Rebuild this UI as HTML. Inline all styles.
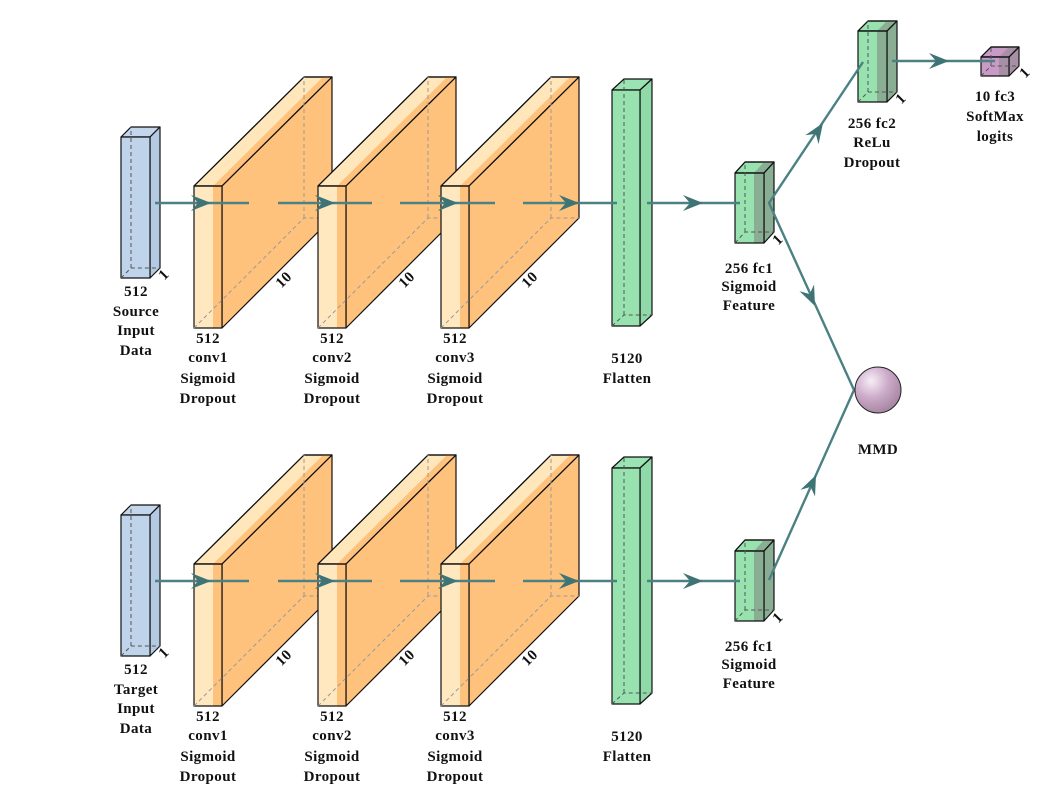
<!DOCTYPE html>
<html><head><meta charset="utf-8"><style>
html,body{margin:0;padding:0;background:#fff;}
svg{display:block;}
text{font-family:"Liberation Serif",serif;font-weight:bold;font-size:15px;letter-spacing:0.4px;fill:#111;text-anchor:middle;}
.d{font-weight:normal;font-size:12px;letter-spacing:0;}
.ln{stroke:#4c8184;stroke-width:2.4;fill:none;}
.hd{fill:#3f7476;}
.e{stroke:#111;stroke-width:1.2;stroke-linejoin:round;}
.dash{stroke:#555;stroke-width:1;stroke-dasharray:4,3;fill:none;}
.dashl{stroke:#999;stroke-width:1;stroke-dasharray:4,3;fill:none;}
</style></head><body>
<svg width="1053" height="796" viewBox="0 0 1053 796" xmlns="http://www.w3.org/2000/svg">
<defs>
<radialGradient id="sph" cx="0.35" cy="0.3" r="0.75">
<stop offset="0" stop-color="#f7eef6"/><stop offset="0.5" stop-color="#ccabc9"/><stop offset="1" stop-color="#a3839f"/>
</radialGradient>
<path id="ah" d="M0,0 L-20,-8 L-13,0 L-20,8 Z"/>
<g id="row">
<g class="e">
<polygon points="121,137 131,127 160,127 150,137" fill="#c3d6ec"/>
<polygon points="150,137 160,127 160,268 150,278" fill="#b4c9e2"/>
<rect x="121" y="137" width="29" height="141" fill="#bfd3ea"/>
</g>
<path class="dash" d="M121,278 L131,268 L160,268 M131,268 L131,127"/>
<g id="conv">
<g class="e">
<polygon points="194,186 304,77 332,77 222,186" fill="#ffe6bb"/>
<polygon points="213,186 323,77 332,77 222,186" fill="#ffc27d" stroke="none"/>
<polygon points="222,186 332,77 332,218 222,328" fill="#ffc27d"/>
<rect x="194" y="186" width="19" height="142" fill="#ffe8c0" stroke="none"/>
<rect x="213" y="186" width="9" height="142" fill="#ffc27d" stroke="none"/>
<rect x="194" y="186" width="28" height="142" fill="none"/>
<polygon points="194,186 304,77 332,77 222,186" fill="none"/>
</g>
<path class="dashl" d="M194,328 L304,218 L332,218 M304,218 L304,77"/>
</g>
<use href="#conv" transform="translate(124,0)"/>
<use href="#conv" transform="translate(247,0)"/>
<g class="e">
<polygon points="612,90 624,79 652,79 640,90" fill="#9ae3b2"/>
<polygon points="640,90 652,79 652,315 640,326" fill="#8fdaa8"/>
<rect x="612" y="90" width="28" height="236" fill="#98e2b0"/>
</g>
<path class="dash" d="M612,326 L624,315 L652,315 M624,315 L624,79"/>
<g class="e">
<polygon points="735,173 745,162 774,162 764,173" fill="#98e2b0"/>
<polygon points="754,173 764,162 774,162 764,173" fill="#8aae94" stroke="none"/>
<polygon points="764,173 774,162 774,232 764,243" fill="#8aae94"/>
<rect x="735" y="173" width="19" height="70" fill="#98e2b0" stroke="none"/>
<rect x="754" y="173" width="10" height="70" fill="#8aae94" stroke="none"/>
<rect x="735" y="173" width="29" height="70" fill="none"/>
<polygon points="735,173 745,162 774,162 764,173" fill="none"/>
</g>
<path class="dash" d="M735,243 L745,232 L774,232 M745,232 L745,162"/>
<path class="ln" d="M155,203 L249 203 M278,203 L372,203 M400,203 L495,203 M523,203 L617,203 M647,203 L740,203"/>
<g class="hd">
<use href="#ah" transform="translate(211,203)"/>
<use href="#ah" transform="translate(335,203)"/>
<use href="#ah" transform="translate(458,203)"/>
<use href="#ah" transform="translate(579,203)"/>
<use href="#ah" transform="translate(703,203)"/>
</g>
</g>
</defs>

<use href="#row"/>
<use href="#row" transform="translate(0,378)"/>

<g class="e">
<polygon points="858,31 868,21 897,21 887,31" fill="#98e2b0"/>
<polygon points="877,31 887,21 897,21 887,31" fill="#8aae94" stroke="none"/>
<polygon points="887,31 897,21 897,92 887,102" fill="#8aae94"/>
<rect x="858" y="31" width="19" height="71" fill="#98e2b0" stroke="none"/>
<rect x="877" y="31" width="10" height="71" fill="#8aae94" stroke="none"/>
<rect x="858" y="31" width="29" height="71" fill="none"/>
<polygon points="858,31 868,21 897,21 887,31" fill="none"/>
</g>
<path class="dash" d="M858,102 L868,92 L897,92 M868,92 L868,21"/>
<g class="e">
<polygon points="981,57 991,47 1019,47 1009,57" fill="#c79bc6"/>
<polygon points="999,57 1009,47 1019,47 1009,57" fill="#a78fa5" stroke="none"/>
<polygon points="1009,57 1019,47 1019,66 1009,76" fill="#a78fa5"/>
<rect x="981" y="57" width="18" height="19" fill="#c79bc6" stroke="none"/>
<rect x="999" y="57" width="10" height="19" fill="#a78fa5" stroke="none"/>
<rect x="981" y="57" width="28" height="19" fill="none"/>
<polygon points="981,57 991,47 1019,47 1009,57" fill="none"/>
</g>
<path class="dash" d="M981,76 L991,66 L1019,66 M991,66 L991,47"/>

<path class="ln" d="M863,62 L769,203 L854,390 L769,580 M892,61 L995,61"/>
<g class="hd">
<use href="#ah" transform="translate(949,61)"/>
<use href="#ah" transform="translate(823,123) rotate(-56.3)"/>
<use href="#ah" transform="translate(815,306) rotate(65.7)"/>
<use href="#ah" transform="translate(816,475) rotate(-65.6)"/>
</g>
<circle cx="878" cy="390" r="23" fill="url(#sph)" stroke="#222" stroke-width="1"/>

<g class="d">
<text transform="translate(167,278) rotate(-45)">1</text>
<text transform="translate(287,283) rotate(-45)">10</text>
<text transform="translate(410,283) rotate(-45)">10</text>
<text transform="translate(533,283) rotate(-45)">10</text>
<text transform="translate(781,243) rotate(-45)">1</text>
<text transform="translate(904,102) rotate(-45)">1</text>
<text transform="translate(1028,76) rotate(-45)">1</text>
<text transform="translate(167,656) rotate(-45)">1</text>
<text transform="translate(287,661) rotate(-45)">10</text>
<text transform="translate(410,661) rotate(-45)">10</text>
<text transform="translate(533,661) rotate(-45)">10</text>
<text transform="translate(781,621) rotate(-45)">1</text>
</g>

<text x="136" y="296">512</text><text x="136" y="316">Source</text><text x="136" y="335">Input</text><text x="136" y="355">Data</text>
<text x="208" y="343">512</text><text x="208" y="362">conv1</text><text x="208" y="383">Sigmoid</text><text x="208" y="403">Dropout</text>
<text x="332" y="343">512</text><text x="332" y="362">conv2</text><text x="332" y="383">Sigmoid</text><text x="332" y="403">Dropout</text>
<text x="455" y="343">512</text><text x="455" y="362">conv3</text><text x="455" y="383">Sigmoid</text><text x="455" y="403">Dropout</text>
<text x="627" y="363">5120</text><text x="627" y="383">Flatten</text>
<text x="749" y="273">256 fc1</text><text x="749" y="291">Sigmoid</text><text x="749" y="310">Feature</text>
<text x="872" y="128">256 fc2</text><text x="872" y="147">ReLu</text><text x="872" y="167">Dropout</text>
<text x="995" y="101">10 fc3</text><text x="995" y="121">SoftMax</text><text x="995" y="141">logits</text>
<text x="878" y="454">MMD</text>

<text x="136" y="674">512</text><text x="136" y="694">Target</text><text x="136" y="713">Input</text><text x="136" y="733">Data</text>
<text x="208" y="721">512</text><text x="208" y="740">conv1</text><text x="208" y="761">Sigmoid</text><text x="208" y="781">Dropout</text>
<text x="332" y="721">512</text><text x="332" y="740">conv2</text><text x="332" y="761">Sigmoid</text><text x="332" y="781">Dropout</text>
<text x="455" y="721">512</text><text x="455" y="740">conv3</text><text x="455" y="761">Sigmoid</text><text x="455" y="781">Dropout</text>
<text x="627" y="741">5120</text><text x="627" y="761">Flatten</text>
<text x="749" y="651">256 fc1</text><text x="749" y="669">Sigmoid</text><text x="749" y="688">Feature</text>
</svg>
</body></html>
